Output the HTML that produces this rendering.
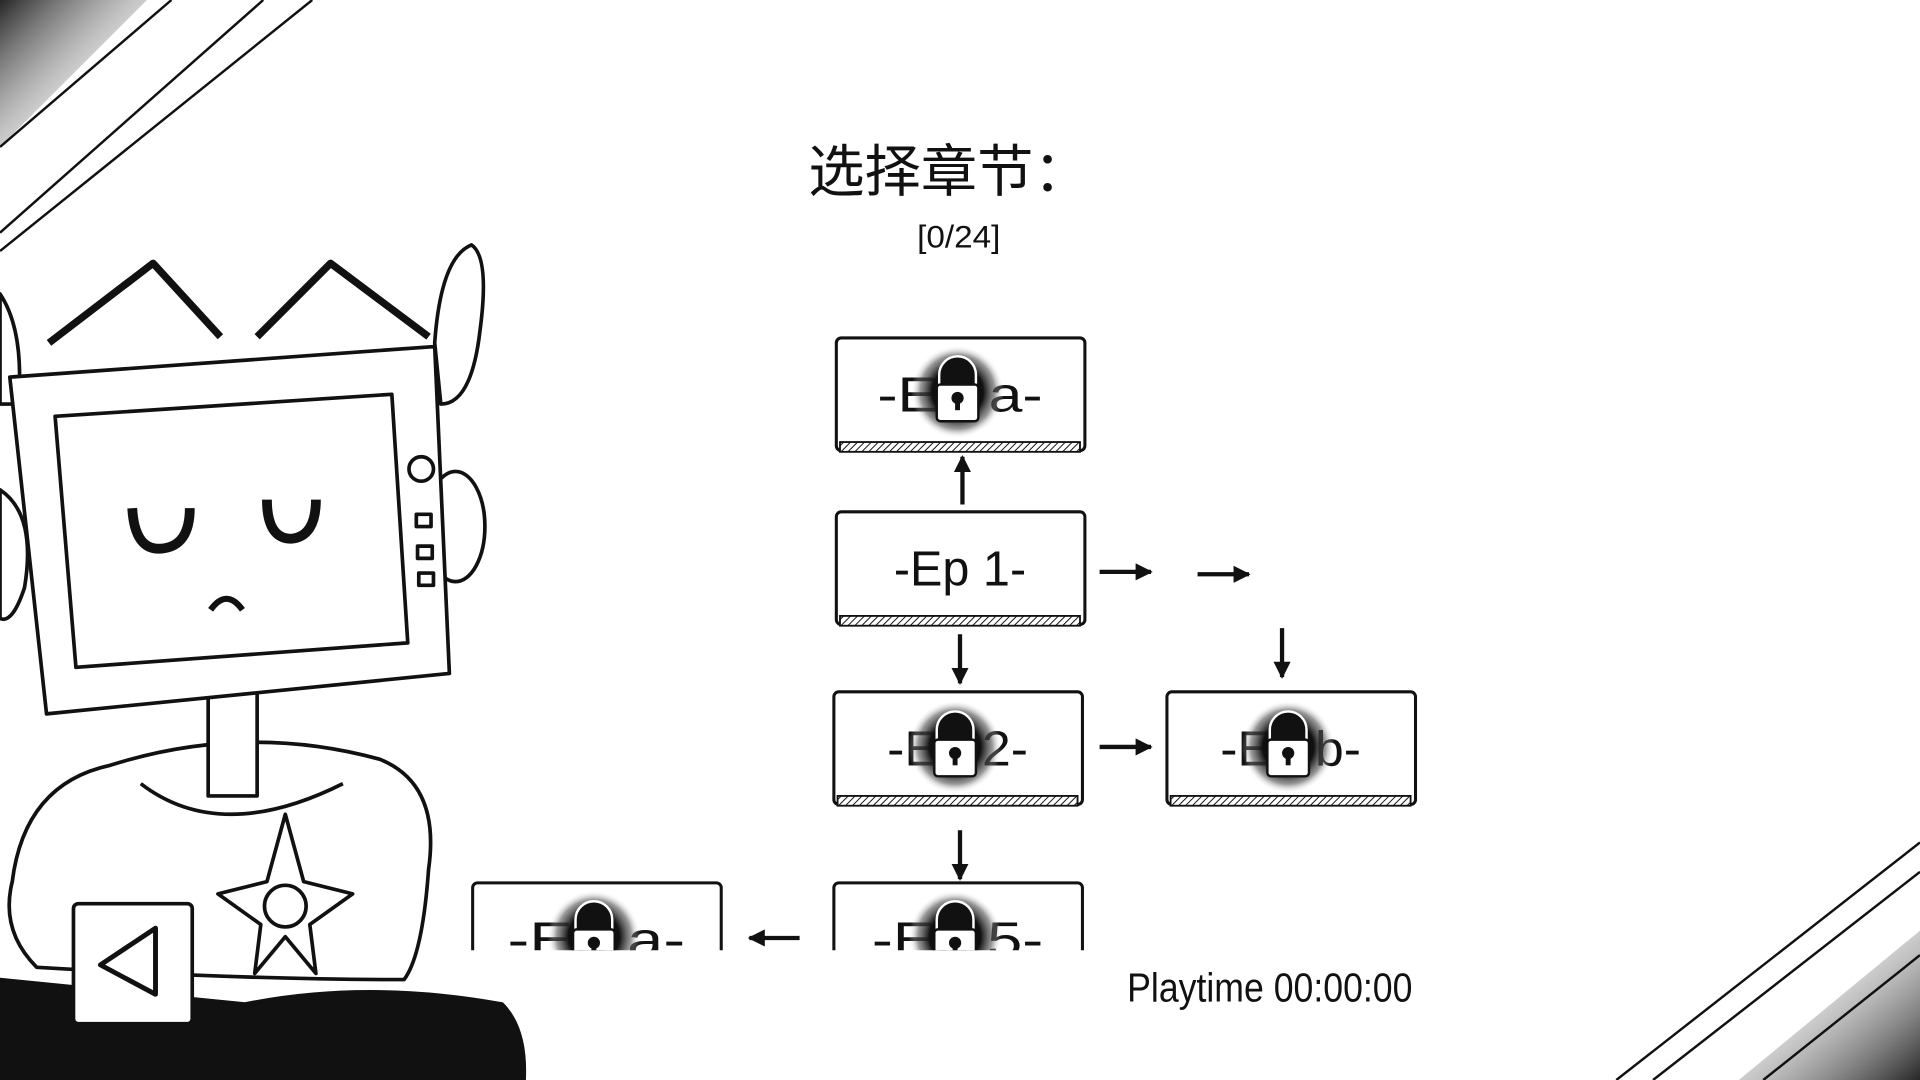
<!DOCTYPE html>
<html><head><meta charset="utf-8"><style>
html,body{margin:0;padding:0;background:#fff;overflow:hidden}
svg{display:block}
text{font-family:"Liberation Sans","Noto Sans CJK SC",sans-serif;fill:#111}
</style></head><body>
<svg width="1920" height="1080" viewBox="0 0 1568 882" xmlns="http://www.w3.org/2000/svg">
<defs>
<radialGradient id="blot"><stop offset="0" stop-color="#000"/><stop offset="0.55" stop-color="#111"/><stop offset="0.8" stop-color="#555" stop-opacity="0.6"/><stop offset="1" stop-color="#fff" stop-opacity="0"/></radialGradient>
<linearGradient id="tl" x1="0" y1="0" x2="1" y2="1"><stop offset="0" stop-color="#000" stop-opacity="0.85"/><stop offset="0.45" stop-color="#666" stop-opacity="0.4"/><stop offset="1" stop-color="#fff" stop-opacity="0"/></linearGradient>
<linearGradient id="br" x1="1" y1="1" x2="0" y2="0"><stop offset="0" stop-color="#000" stop-opacity="0.85"/><stop offset="0.45" stop-color="#666" stop-opacity="0.4"/><stop offset="1" stop-color="#fff" stop-opacity="0"/></linearGradient>
<pattern id="hatch" width="4" height="4" patternUnits="userSpaceOnUse" patternTransform="rotate(45)"><rect width="4" height="4" fill="#fff"/><line x1="0" y1="0" x2="0" y2="4" stroke="#111" stroke-width="1.6"/></pattern>
<g id="lock"><circle cx="0" cy="0" r="38" fill="url(#blot)"/><path d="M-15,-2 v-12 a15,15 0 0 1 30,0 v12" fill="#111" stroke="#fff" stroke-width="2"/><rect x="-17" y="-6" width="34" height="30" rx="3" fill="#fff" stroke="#111" stroke-width="2"/><circle cx="0" cy="5" r="5" fill="#111"/><rect x="-2" y="6" width="4" height="9" fill="#111"/></g>
<g id="box"><rect x="0" y="0" width="203" height="92" rx="4" fill="#fff" stroke="#111" stroke-width="2.5"/><rect x="3" y="85" width="196" height="8" fill="url(#hatch)" stroke="#111" stroke-width="1.5"/></g>
<marker id="ah" viewBox="0 0 10 10" refX="9" refY="5" markerWidth="4" markerHeight="4" orient="auto"><path d="M0,0 L10,5 L0,10 z" fill="#111"/></marker>
</defs>
<rect width="1568" height="882" fill="#fff"/>
<polygon points="0,0 120,0 0,120" fill="url(#tl)"/>
<g stroke="#111" stroke-width="2"><line x1="0" y1="190" x2="215" y2="0"/><line x1="0" y1="205" x2="255" y2="0"/><line x1="0" y1="120" x2="140" y2="0"/></g>
<polygon points="1568,882 1420,882 1568,760" fill="url(#br)"/>
<g stroke="#111" stroke-width="2"><line x1="1320" y1="882" x2="1568" y2="688"/><line x1="1350" y1="882" x2="1568" y2="712"/><line x1="1440" y1="882" x2="1568" y2="780"/></g>

<text x="775" y="156" font-size="46" text-anchor="middle">选择章节：</text>
<text x="783" y="202" font-size="26" text-anchor="middle" textLength="68" lengthAdjust="spacingAndGlyphs">[0/24]</text>

<use href="#box" x="683" y="276"/><text x="784" y="336" font-size="40" text-anchor="middle" textLength="135" lengthAdjust="spacingAndGlyphs">-Ep a-</text><use href="#lock" x="782" y="320"/>
<use href="#box" x="683" y="418"/><text x="784" y="478" font-size="40" text-anchor="middle" textLength="108" lengthAdjust="spacingAndGlyphs">-Ep 1-</text>
<use href="#box" x="681" y="565"/><text x="782" y="625" font-size="40" text-anchor="middle" textLength="115" lengthAdjust="spacingAndGlyphs">-Ep 2-</text><use href="#lock" x="780" y="610"/>
<use href="#box" x="953" y="565"/><text x="1054" y="625" font-size="40" text-anchor="middle" textLength="115" lengthAdjust="spacingAndGlyphs">-Ep b-</text><use href="#lock" x="1052" y="610"/>
<svg x="0" y="0" width="1568" height="776" overflow="hidden">
<use href="#box" x="681" y="721"/><text x="782" y="781" font-size="40" text-anchor="middle" textLength="140" lengthAdjust="spacingAndGlyphs">-Ep 5-</text><use href="#lock" x="780" y="765"/>
<use href="#box" x="386" y="721"/><text x="487" y="781" font-size="40" text-anchor="middle" textLength="145" lengthAdjust="spacingAndGlyphs">-Ep a-</text><use href="#lock" x="485" y="765"/>
</svg>

<g stroke="#111" stroke-width="3.5" marker-end="url(#ah)">
<line x1="786" y1="412" x2="786" y2="373"/>
<line x1="898" y1="467" x2="940" y2="467"/>
<line x1="978" y1="469" x2="1020" y2="469"/>
<line x1="1047" y1="513" x2="1047" y2="553"/>
<line x1="784" y1="518" x2="784" y2="558"/>
<line x1="898" y1="610" x2="940" y2="610"/>
<line x1="784" y1="678" x2="784" y2="718"/>
<line x1="653" y1="766" x2="612" y2="766"/>
</g>

<text x="1037" y="818" font-size="33" text-anchor="middle" textLength="233" lengthAdjust="spacingAndGlyphs">Playtime 00:00:00</text>

<g fill="#fff" stroke="#111" stroke-width="3" stroke-linejoin="round">
<path d="M0,800 L0,882 L428,882 Q430,840 410,820 Q300,800 200,820 Q100,810 0,800z" fill="#111"/>
<path d="M0,240 Q20,270 15,330 L0,330z"/>
<path d="M355,280 Q360,210 385,200 Q400,210 392,270 Q385,330 360,330z"/>
<ellipse cx="372" cy="430" rx="24" ry="45"/>
<path d="M0,400 Q30,420 20,480 Q10,510 0,505z"/>
<path d="M10,720 Q20,640 90,625 Q200,590 310,620 Q360,640 350,710 Q345,780 330,800 Q200,800 30,790 Q0,760 10,720z"/>
<path d="M115,640 Q180,690 280,640"/>
<rect x="170" y="560" width="40" height="90" fill="#fff"/>
<path d="M40,280 L125,215 L180,275 M210,275 L270,215 L350,275" fill="none" stroke-width="6"/>
<path d="M8,308 L355,283 L367,550 L38,583z"/>
<path d="M45,340 L320,322 L333,525 L62,545z"/>
<circle cx="344" cy="383" r="10"/>
<rect x="340" y="420" width="12" height="10"/><rect x="341" y="446" width="12" height="10"/><rect x="342" y="468" width="12" height="10"/>
<path d="M108,415 Q110,450 132,448 Q155,446 155,415" fill="none" stroke-width="8"/>
<path d="M218,408 Q218,440 238,440 Q258,438 258,408" fill="none" stroke-width="8"/>
<path d="M172,498 Q185,480 198,498" fill="none" stroke-width="5"/>
<g transform="translate(233,740)"><polygon points="0,-75 15,-20 55,-10 20,15 25,55 0,25 -25,55 -20,15 -55,-10 -15,-20"/><circle r="17"/></g>
<rect x="60" y="738" width="97" height="98" rx="4"/>
<polygon points="127,758 127,812 82,788" fill="#fff" stroke-width="4"/>
</g>
</svg>
</body></html>
